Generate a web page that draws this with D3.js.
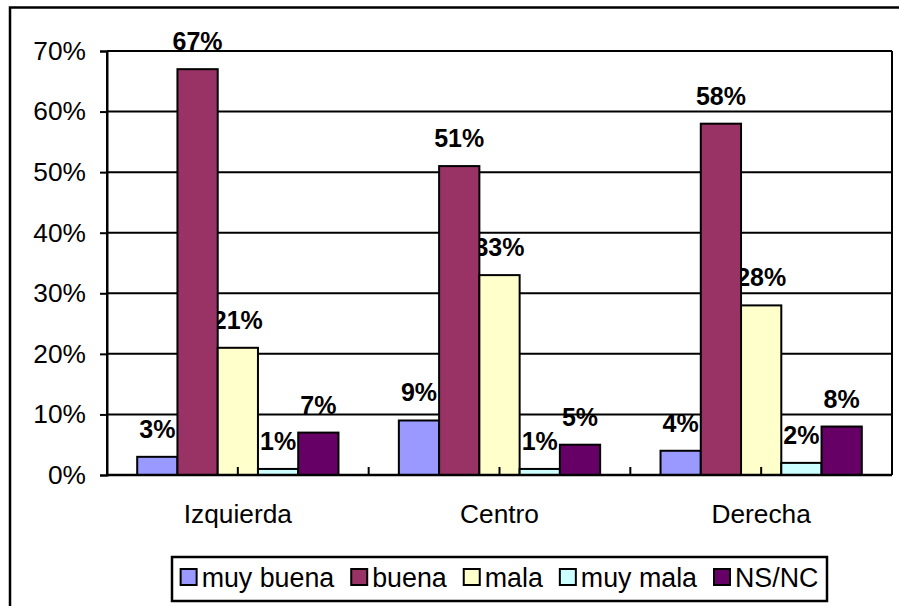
<!DOCTYPE html>
<html>
<head>
<meta charset="utf-8">
<script src="https://d3js.org/d3.v7.min.js"></script>
<style>
  body { margin: 0; background: white; }
  text { font-family: "Liberation Sans", Arial, sans-serif; fill: #000; }
</style>
</head>
<body>
<div id="chartWrapper"></div>
<script>
var categories = ["Izquierda", "Centro", "Derecha"]
var seriesNames = ["muy buena", "buena", "mala", "muy mala", "NS/NC"]
var muyBuena = [3, 9, 4]
var buena = [67, 51, 58]
var mala = [21, 33, 28]
var muyMala = [1, 1, 2]
var nsnc = [7, 5, 8]
var yTicks = [0, 10, 20, 30, 40, 50, 60, 70]
var colors = ["#9999ff", "#993366", "#ffffcc", "#ccffff", "#660066"]

var seriesValues = [muyBuena, buena, mala, muyMala, nsnc]

function draw_chart() {
    var w = 899;
    var h = 606;
    var left = 107, right = 892, top = 51, bottom = 475;
    var fs = "26.3px";

    var svg = d3.select("#chartWrapper")
        .append("svg")
        .attr("width", w)
        .attr("height", h);

    // outer frame (runs off the right and bottom edge)
    svg.append("rect")
        .attr("x", 10)
        .attr("y", 7.5)
        .attr("width", 910)
        .attr("height", 620)
        .style("fill", "white")
        .style("stroke", "#000")
        .style("stroke-width", 2.5);

    var y = d3.scaleLinear().domain([0, 70]).range([bottom, top]);
    var x = d3.scaleBand().domain(categories).range([left, right]).padding(0);
    var xs = d3.scaleBand().domain(seriesNames).range([0, x.bandwidth()])
        .paddingInner(0).paddingOuter(0.75);

    // gridlines
    svg.append("g").selectAll("line")
        .data(yTicks.filter(function(d){ return d > 0 }))
        .enter().append("line")
        .attr("x1", left)
        .attr("x2", right)
        .attr("y1", function(d){ return y(d) })
        .attr("y2", function(d){ return y(d) })
        .style("stroke", "#000")
        .style("stroke-width", 2);

    // right border of plot area
    svg.append("line")
        .attr("x1", right).attr("x2", right)
        .attr("y1", top).attr("y2", bottom)
        .style("stroke", "#000")
        .style("stroke-width", 2);

    // y axis
    var yAxis = d3.axisLeft(y)
        .tickValues(yTicks)
        .tickSize(7)
        .tickPadding(14)
        .tickFormat(function(d){ return d + "%" });
    var gy = svg.append("g")
        .attr("transform", "translate(" + left + ",0)")
        .call(yAxis);
    gy.selectAll("path, line").style("stroke", "#000").style("stroke-width", 2);
    gy.selectAll("text")
        .style("font-family", "'Liberation Sans', Arial, sans-serif")
        .style("font-size", fs);

    // data labels (drawn under the bars, as in the original)
    var flat = [];
    seriesValues.forEach(function(vals, si){
        vals.forEach(function(v, ci){
            flat.push({cat: categories[ci], s: seriesNames[si], v: v, c: colors[si]});
        });
    });

    svg.append("g").selectAll("text")
        .data(flat)
        .enter().append("text")
        .attr("x", function(d){ return x(d.cat) + xs(d.s) + xs.bandwidth() / 2 })
        .attr("y", function(d){ return y(d.v) - 19 })
        .attr("text-anchor", "middle")
        .style("font-size", "25px")
        .style("font-weight", "bold")
        .text(function(d){ return d.v + "%" });

    // bars
    svg.append("g").selectAll("rect")
        .data(flat)
        .enter().append("rect")
        .attr("x", function(d){ return x(d.cat) + xs(d.s) })
        .attr("y", function(d){ return y(d.v) })
        .attr("width", xs.bandwidth())
        .attr("height", function(d){ return y(0) - y(d.v) })
        .style("fill", function(d){ return d.c })
        .style("stroke", "#000")
        .style("stroke-width", 2);

    // x axis baseline + small inward ticks
    svg.append("line")
        .attr("x1", left).attr("x2", right)
        .attr("y1", bottom).attr("y2", bottom)
        .style("stroke", "#000")
        .style("stroke-width", 2.5);
    svg.append("line")
        .attr("x1", left).attr("x2", left)
        .attr("y1", top).attr("y2", bottom)
        .style("stroke", "#000")
        .style("stroke-width", 2);

    var tickPos = [];
    categories.forEach(function(c){
        tickPos.push(x(c));
        tickPos.push(x(c) + x.bandwidth() / 2);
    });
    tickPos.push(right);
    svg.append("g").selectAll("line")
        .data(tickPos)
        .enter().append("line")
        .attr("x1", function(d){ return d })
        .attr("x2", function(d){ return d })
        .attr("y1", bottom)
        .attr("y2", bottom - 8)
        .style("stroke", "#000")
        .style("stroke-width", 2);

    svg.append("g").selectAll("text")
        .data(categories)
        .enter().append("text")
        .attr("x", function(d){ return x(d) + x.bandwidth() / 2 })
        .attr("y", 523)
        .attr("text-anchor", "middle")
        .style("font-size", fs)
        .text(function(d){ return d });

    // legend
    var lg = svg.append("g");
    lg.append("rect")
        .attr("x", 172)
        .attr("y", 557)
        .attr("width", 655)
        .attr("height", 44)
        .style("fill", "white")
        .style("stroke", "#000")
        .style("stroke-width", 2.5);

    var items = lg.selectAll("g.item")
        .data(seriesNames)
        .enter().append("g")
        .attr("class", "item");
    items.append("rect")
        .attr("width", 16)
        .attr("height", 16)
        .attr("y", 569)
        .style("fill", function(d, i){ return colors[i] })
        .style("stroke", "#000")
        .style("stroke-width", 2);
    items.append("text")
        .attr("y", 587)
        .style("font-size", "26.8px")
        .text(function(d){ return d });

    var widths = [];
    items.selectAll("text").each(function(){ widths.push(this.getComputedTextLength()) });
    var total = 0;
    widths.forEach(function(tw, i){ total += 16 + 5 + tw + (i < widths.length - 1 ? 17 : 0) });
    var cx = 172 + (655 - total) / 2;
    items.each(function(d, i){
        var g = d3.select(this);
        g.select("rect").attr("x", cx);
        g.select("text").attr("x", cx + 21);
        cx += 16 + 5 + widths[i] + 17;
    });
}

draw_chart()
</script>
</body>
</html>
